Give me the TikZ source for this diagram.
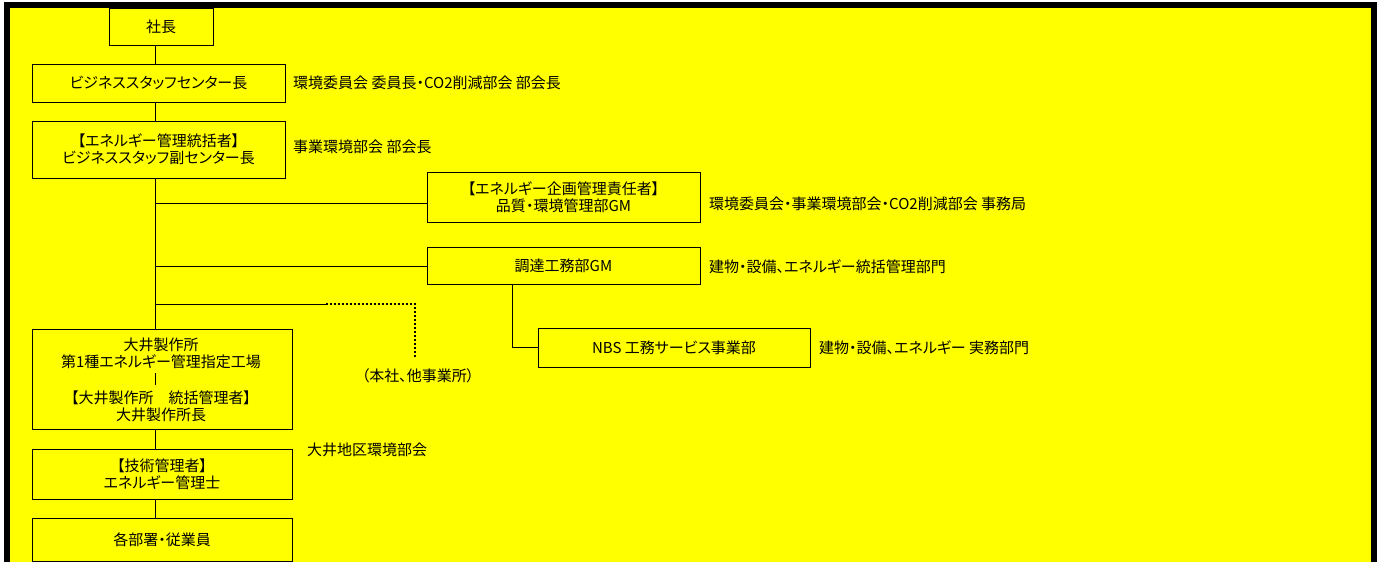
\documentclass[tikz,border=0pt]{standalone}
\usepackage{fontspec}
\setmainfont{Noto Sans CJK JP}[RawFeature=+palt]
\definecolor{bgyellow}{RGB}{255,255,0}
\begin{document}
\begin{tikzpicture}[x=1pt,y=-1pt,
  every node/.style={font=\fontsize{15pt}{17pt}\selectfont, inner sep=0pt},
  orgbox/.style={draw=black, line width=1pt, rectangle, align=center},
  lbl/.style={anchor=west},
  link/.style={draw=black, line width=1pt},
  dotlink/.style={draw=black, line width=1.2pt, dash pattern=on 2pt off 2pt}]
\useasboundingbox (0,0) rectangle (1381,562);
\fill[white] (0,0) rectangle (1381,562);
\fill[black] (4,2) rectangle (1377,562);
\fill[bgyellow] (10,8) rectangle (1371,562);

% boxes
\node[orgbox, minimum width=104pt, minimum height=37pt] (shacho) at (161,26.5) {社長};
\node[orgbox, minimum width=253pt, minimum height=38pt] (bsc) at (158.5,83) {ビジネススタッフセンター長};
\node[orgbox, minimum width=253pt, minimum height=57pt] (tokatsu) at (158.5,149.5) {【エネルギー管理統括者】\\ビジネススタッフ副センター長};
\node[orgbox, minimum width=273pt, minimum height=50pt] (kikaku) at (563.5,197) {【エネルギー企画管理責任者】\\品質・環境管理部GM};
\node[orgbox, minimum width=273pt, minimum height=37pt] (chotatsu) at (563.5,265.5) {調達工務部GM};
\node[orgbox, minimum width=272pt, minimum height=39pt] (nbs) at (674,347.5) {NBS 工務サービス事業部};
\node[orgbox, minimum width=260pt, minimum height=100pt] (oi) at (162,379) {};
\node (oi1) at (161,345) {大井製作所};
\node (oi2) at (161,362) {第1種エネルギー管理指定工場};
\node (oi3) at (161,398) {【大井製作所　統括管理者】};
\node (oi4) at (161,415) {大井製作所長};
\node[orgbox, minimum width=260pt, minimum height=50pt] (gijutsu) at (162,474) {【技術管理者】\\エネルギー管理士};
\node[orgbox, minimum width=260pt, minimum height=43pt] (kakubu) at (162,540) {各部署・従業員};

% side labels
\node[lbl] (l1) at (293,83) {環境委員会 委員長・CO2削減部会 部会長};
\node[lbl] (l2) at (293,147) {事業環境部会 部会長};
\node[lbl] (l3) at (709,204) {環境委員会・事業環境部会・CO2削減部会 事務局};
\node[lbl] (l4) at (709,267) {建物・設備、エネルギー統括管理部門};
\node[lbl] (l5) at (819,348) {建物・設備、エネルギー 実務部門};
\node[lbl] (l6) at (307,450) {大井地区環境部会};
\node (l7) at (418,376) {（本社、他事業所）};

% trunk
\coordinate (t) at (155,0);
\coordinate (b1) at (155,203);
\coordinate (b2) at (155,266);
\coordinate (b3) at (155,304);
\coordinate (d1) at (326,304);
\coordinate (d2) at (415,304);
\coordinate (d3) at (415,358);
\coordinate (c1) at (512,284);
\coordinate (i1) at (155,373);
\coordinate (i2) at (155,385);

\draw[link] (t |- shacho.south) -- (t |- bsc.north);
\draw[link] (t |- bsc.south) -- (t |- tokatsu.north);
\draw[link] (t |- tokatsu.south) -- (t |- oi.north);
\draw[link] (b1) -- (b1 -| kikaku.west);
\draw[link] (b2) -- (b2 -| chotatsu.west);
\draw[link] (b3) -- (d1);
\draw[dotlink] (d1) -- (d2) -- (d3);
\draw[link] (c1) |- (nbs.west);
\draw[link] (i1) -- (i2);
\draw[link] (t |- oi.south) -- (t |- gijutsu.north);
\draw[link] (t |- gijutsu.south) -- (t |- kakubu.north);
\end{tikzpicture}
\end{document}
